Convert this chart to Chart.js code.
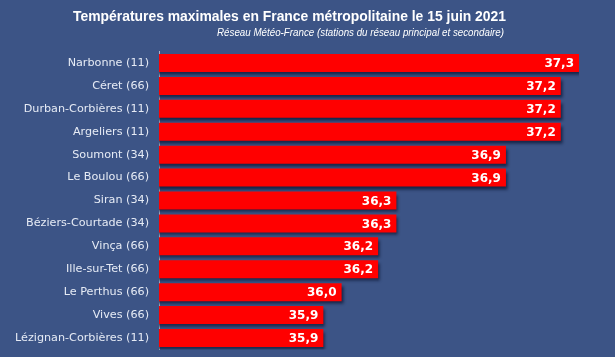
<!DOCTYPE html>
<html><head><meta charset="utf-8">
<script src="https://cdn.jsdelivr.net/npm/chart.js@4/dist/chart.umd.min.js"></script>
<style>html,body{margin:0;padding:0;background:#3c5486;}#wrap{width:615px;height:357px;position:relative;}</style>
</head><body><div id="wrap"><canvas id="c" width="615" height="357"></canvas></div>
<script>
const stations = ["Narbonne (11)","Céret (66)","Durban-Corbières (11)","Argeliers (11)","Soumont (34)","Le Boulou (66)","Siran (34)","Béziers-Courtade (34)","Vinça (66)","Ille-sur-Tet (66)","Le Perthus (66)","Vives (66)","Lézignan-Corbières (11)"];
const tmax = [37.3,37.2,37.2,37.2,36.9,36.9,36.3,36.3,36.2,36.2,36.0,35.9,35.9];
const titleText = "Températures maximales en France métropolitaine le 15 juin 2021";
const subtitleText = "Réseau Météo-France (stations du réseau principal et secondaire)";

const shadowPlugin = {
  id:'shadow',
  beforeDatasetsDraw(chart){const c=chart.ctx;c.save();c.shadowColor='rgba(10,20,50,0.75)';c.shadowOffsetX=2;c.shadowOffsetY=3;c.shadowBlur=3;},
  afterDatasetsDraw(chart){chart.ctx.restore();}
};
const labelPlugin = {
  id:'vals',
  afterDatasetsDraw(chart){
    const c=chart.ctx; const meta=chart.getDatasetMeta(0);
    c.save(); c.font='bold 12px "DejaVu Sans"'; c.fillStyle='#ffffff'; c.textAlign='right'; c.textBaseline='middle';
    meta.data.forEach((bar,i)=>{ c.fillText(tmax[i].toFixed(1).replace('.',','), bar.x-5, bar.y+1); });
    c.restore();
  }
};
function fitText(c, text, right, baseline, width){
  const w=c.measureText(text).width; const k=width/w;
  c.save(); c.translate(right,baseline); c.scale(k,1); c.textAlign='right'; c.fillText(text,0,0); c.restore();
}
const titlePlugin = {
  id:'titles',
  afterDraw(chart){
    const c=chart.ctx; c.save(); c.textBaseline='alphabetic'; c.fillStyle='#ffffff';
    c.font='bold 15px "Liberation Sans"'; fitText(c,titleText,506,21,433);
    c.font='italic 11px "Liberation Sans"'; fitText(c,subtitleText,504,36,287);
    c.restore();
  }
};

new Chart(document.getElementById('c'),{
  type:'bar',
  data:{labels:stations,datasets:[{data:tmax,backgroundColor:'#ff0000',borderWidth:0,barPercentage:0.785,categoryPercentage:1}]},
  options:{
    indexAxis:'y', responsive:false, animation:false,
    layout:{padding:{top:51.5,bottom:7.5,left:0,right:36}},
    plugins:{legend:{display:false},tooltip:{enabled:false},title:{display:false}},
    scales:{
      x:{display:false,min:35,max:37.3},
      y:{
        grid:{display:false,drawTicks:false},
        border:{display:true,color:'#a8b0c8',width:1},
        ticks:{color:'#e6ebf5',font:{family:'"DejaVu Sans"',size:11.2},padding:10},
        afterFit(s){s.width=159;s.paddingTop=0;s.paddingBottom=0;}
      }
    }
  },
  plugins:[shadowPlugin,labelPlugin,titlePlugin]
});
</script></body></html>
